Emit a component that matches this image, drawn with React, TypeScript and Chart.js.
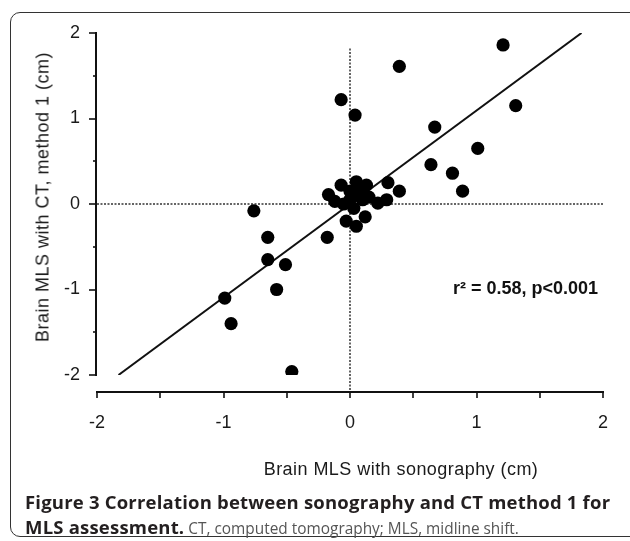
import React, { useEffect, useRef } from "react";
import { Chart, registerables } from "chart.js";

Chart.register(...registerables);

// Brain MLS with sonography (cm)
const sonography = [
  1.21, 0.39, -0.07, 0.04, 1.31, 0.67, 1.01, 0.64, 0.81, 0.89,
  0.39, 0.30, -0.17, -0.07, 0.05, 0.13, 0.29, 0.22, 0.12, -0.03,
  0.05, -0.18, -0.76, -0.65, -0.65, -0.51, -0.58, -0.99, -0.94, -0.46,
  -0.12, 0.0, 0.05, 0.10, 0.03, -0.05, 0.08, 0.15, 0.0,
];
// Brain MLS with CT, method 1 (cm)
const ctMethod1 = [
  1.86, 1.61, 1.22, 1.04, 1.15, 0.9, 0.65, 0.46, 0.36, 0.15,
  0.15, 0.25, 0.11, 0.22, 0.26, 0.22, 0.05, 0.01, -0.15, -0.2,
  -0.26, -0.39, -0.08, -0.39, -0.65, -0.71, -1.0, -1.1, -1.4, -1.96,
  0.03, 0.05, 0.1, 0.05, -0.05, 0.0, 0.15, 0.08, 0.15,
];
// regression line end points
const fitX = [-1.83, 1.83];
const fitY = [-2, 2];
// dotted reference lines
const refHX = [-2, 2];
const refHY = [0, 0];
const refVX = [0, 0];
const refVY = [1.82, -2.2];

const axisMin = -2;
const axisMax = 2;
const majorStep = 1;
const minorStep = 0.5;

const FONT = "'Liberation Sans', Arial, Helvetica, sans-serif";

const axesPlugin = {
  id: "customAxes",
  afterDraw(chart: any) {
    const { ctx, chartArea, scales } = chart;
    const xs = scales.x;
    const ys = scales.y;
    ctx.save();
    ctx.strokeStyle = "#111";
    ctx.lineCap = "butt";
    // Y axis
    const yx = chartArea.left - 1;
    const yTop = ys.getPixelForValue(axisMax);
    const yBot = ys.getPixelForValue(axisMin);
    ctx.lineWidth = 2;
    ctx.beginPath();
    ctx.moveTo(yx, yTop - 1);
    ctx.lineTo(yx, yBot + 1);
    ctx.stroke();
    ctx.lineWidth = 1.6;
    for (let v = axisMin; v <= axisMax + 1e-9; v += minorStep) {
      const isMajor = Math.abs(v / majorStep - Math.round(v / majorStep)) < 1e-6;
      const len = isMajor ? 7 : 3;
      const py = Math.round(ys.getPixelForValue(v));
      ctx.beginPath();
      ctx.moveTo(yx, py);
      ctx.lineTo(yx - len, py);
      ctx.stroke();
    }
    // X axis (offset below plot)
    const ay = chartArea.bottom + 17;
    const xl = xs.getPixelForValue(axisMin);
    const xr = xs.getPixelForValue(axisMax);
    ctx.lineWidth = 2;
    ctx.beginPath();
    ctx.moveTo(xl - 1, ay);
    ctx.lineTo(xr + 1, ay);
    ctx.stroke();
    ctx.lineWidth = 1.6;
    for (let v = axisMin; v <= axisMax + 1e-9; v += minorStep) {
      const px = Math.round(xs.getPixelForValue(v));
      ctx.beginPath();
      ctx.moveTo(px, ay);
      ctx.lineTo(px, ay + 6);
      ctx.stroke();
    }
    ctx.restore();
  },
};

function ScatterChart() {
  const canvasRef = useRef<HTMLCanvasElement | null>(null);
  useEffect(() => {
    const canvas = canvasRef.current;
    if (!canvas) return;
    const points = sonography.map((x, i) => ({ x, y: ctMethod1[i] }));
    const fit = fitX.map((x, i) => ({ x, y: fitY[i] }));
    const refH = refHX.map((x, i) => ({ x, y: refHY[i] }));
    const refV = refVX.map((x, i) => ({ x, y: refVY[i] }));
    const chart = new Chart(canvas, {
      type: "scatter",
      data: {
        datasets: [
          {
            data: points,
            pointRadius: 6.6,
            pointBackgroundColor: "#000",
            pointBorderWidth: 0,
            borderColor: "#000",
            order: 0,
          } as any,
          {
            data: fit,
            showLine: true,
            pointRadius: 0,
            borderColor: "#111",
            borderWidth: 2,
            order: 1,
          } as any,
          {
            data: refH,
            showLine: true,
            pointRadius: 0,
            borderColor: "#333",
            borderWidth: 1.5,
            borderDash: [2, 1.5],
            order: 2,
          } as any,
          {
            data: refV,
            showLine: true,
            pointRadius: 0,
            borderColor: "#333",
            borderWidth: 1.5,
            borderDash: [2, 1.5],
            clip: false,
            order: 2,
          } as any,
        ],
      },
      options: {
        responsive: false,
        animation: false,
        events: [],
        layout: { padding: { top: 33, right: 27, bottom: 106, left: 0 } },
        plugins: {
          legend: { display: false },
          tooltip: { enabled: false },
        },
        scales: {
          x: {
            type: "linear",
            min: axisMin,
            max: axisMax,
            grid: { display: false, drawTicks: true, tickLength: 35 },
            border: { display: false },
            ticks: {
              stepSize: majorStep,
              padding: 2,
              color: "#1a1a1a",
              font: { family: FONT, size: 18 },
              callback: (v: any) => String(v),
            },
            afterFit: (s: any) => {
              s.height = 60;
            },
          },
          y: {
            type: "linear",
            min: axisMin,
            max: axisMax,
            grid: { display: false, drawTicks: true, tickLength: 15 },
            border: { display: false },
            ticks: {
              stepSize: majorStep,
              padding: 2,
              color: "#1a1a1a",
              font: { family: FONT, size: 18 },
              callback: (v: any) => String(v),
            },
            afterFit: (s: any) => {
              s.width = 97;
            },
          },
        },
      },
      plugins: [axesPlugin],
    });
    return () => chart.destroy();
  }, []);
  return (
    <canvas
      ref={canvasRef}
      width={630}
      height={541}
      style={{ position: "fixed", left: 0, top: 0, width: 630, height: 541 }}
    />
  );
}

export default function App() {
  return (
    <div style={{ position: "fixed", left: 0, top: 0, width: 630, height: 541, overflow: "hidden", background: "#fff" }}>
      <div
        style={{
          position: "absolute",
          left: 10,
          top: 12,
          width: 660,
          height: 525,
          border: "1.6px solid #333",
          borderRadius: 10,
          boxSizing: "border-box",
        }}
      />
      <ScatterChart />
      <div
        style={{
          position: "absolute",
          left: 43,
          top: 197,
          transform: "translate(-50%, -50%) rotate(-90deg)",
          whiteSpace: "nowrap",
          fontFamily: FONT,
          fontSize: 18,
          letterSpacing: "0.5px",
          color: "#1a1a1a",
        }}
      >
        Brain MLS with CT, method 1 (cm)
      </div>
      <div
        style={{
          position: "absolute",
          left: 401,
          top: 469,
          transform: "translate(-50%, -50%)",
          whiteSpace: "nowrap",
          fontFamily: FONT,
          fontSize: 18,
          letterSpacing: "0.45px",
          color: "#1a1a1a",
        }}
      >
        Brain MLS with sonography (cm)
      </div>
      <div
        style={{
          position: "absolute",
          right: 32,
          top: 288,
          transform: "translateY(-50%)",
          whiteSpace: "nowrap",
          fontFamily: FONT,
          fontSize: 18,
          fontWeight: "bold",
          color: "#111",
        }}
      >
        r² = 0.58, p&lt;0.001
      </div>
      <div
        style={{
          position: "absolute",
          left: 25,
          top: 489,
          width: 620,
          fontFamily: "'Open Sans', 'Noto Sans', sans-serif",
          lineHeight: "25px",
          color: "#555",
        }}
      >
        <div style={{ whiteSpace: "nowrap", fontSize: 18.5, letterSpacing: "0.2px", fontWeight: "bold", color: "#231f20" }}>
          Figure 3 Correlation between sonography and CT method 1 for
        </div>
        <div style={{ whiteSpace: "nowrap", fontSize: 15.4 }}>
          <b style={{ color: "#231f20", fontSize: 18.5, letterSpacing: "0.2px" }}>MLS assessment.</b> CT, computed tomography; MLS, midline shift.
        </div>
      </div>
    </div>
  );
}
